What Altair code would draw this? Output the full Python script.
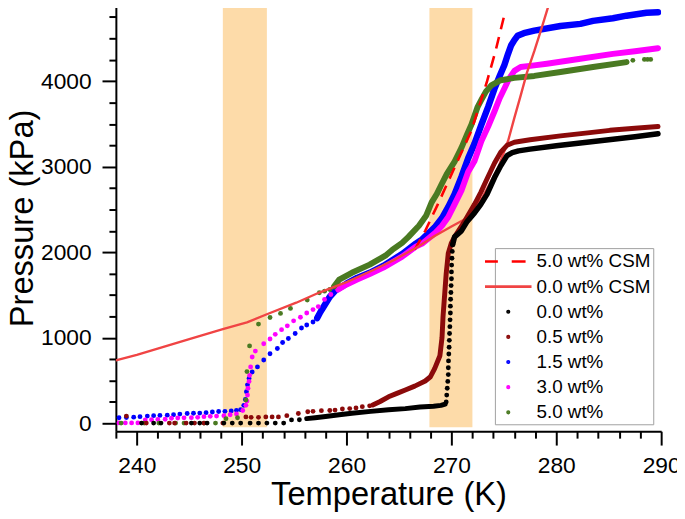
import altair as alt
import pandas as pd

# ---------------- shaded temperature bands ----------------
band_T1 = [248.2, 267.9]
band_T2 = [252.4, 272.0]
band_P1 = [-45, -45]
band_P2 = [4900, 4900]

# ---------------- model curves (CSM) ----------------
csm00_T = [238.0, 240.0, 242.7, 245.0, 248.2, 250.5, 252.4, 255.2, 257.4, 260.0, 262.5, 264.7,
           266.8, 268.4, 270.0, 271.5, 273.0, 274.5, 275.4, 276.0, 276.6, 277.2, 277.9, 278.6, 279.3]
csm00_P = [735, 800, 900, 985, 1102, 1180, 1275, 1410, 1529, 1650, 1790, 1920,
           2065, 2190, 2300, 2400, 2650, 3000, 3300, 3570, 3830, 4100, 4350, 4620, 4900]

csm50_T = [266.5, 267.5, 268.7, 270.3, 271.9, 273.4, 274.2, 275.1]
csm50_P = [2030, 2250, 2560, 2990, 3420, 4000, 4350, 4800]

# ---------------- 0.0 wt% (black) ----------------
w00_pts_T = [240.45, 241.6, 242.3, 245.2, 246.0, 246.7, 248.3, 249.1, 249.9, 250.8, 251.6,
             252.4, 253.2, 254.0, 254.75, 255.5]
w00_pts_P = [3, 3, 3, 3, 3, 3, 3, 3, 3, 3, 3, 3, 3, 3, 40, 42]
w00_low_T = [256.2, 257.0, 258.0, 259.3, 260.5, 262.3, 264.0, 265.6, 267.0, 268.3, 269.0, 269.4]
w00_low_P = [55, 65, 80, 100, 118, 140, 158, 172, 190, 200, 210, 225]
w00_col_T = [269.5, 269.55, 269.6, 269.65, 269.7, 269.7, 269.72, 269.75, 269.78, 269.8, 269.82, 269.85,
             269.87, 269.9, 269.9, 269.92, 269.95, 269.97, 270.0, 270.0, 270.02, 270.05, 270.08, 270.12]
w00_col_P = [250, 330, 410, 490, 570, 650, 730, 810, 890, 970, 1050, 1130,
             1210, 1290, 1370, 1450, 1530, 1610, 1690, 1770, 1850, 1930, 2010, 2090]
w00_up_T = [270.12, 270.3, 270.95, 271.5, 272.2, 272.8, 273.4, 274.1, 274.7, 275.3, 275.8, 276.4,
            277.5, 280.0, 282.5, 285.0, 287.5, 289.7]
w00_up_P = [2090, 2180, 2250, 2360, 2460, 2560, 2680, 2870, 3010, 3130, 3165, 3185,
            3205, 3245, 3280, 3315, 3350, 3385]

# ---------------- 0.5 wt% (dark red) ----------------
w05_pts_T = [239.0, 240.9, 243.1, 243.6, 244.7, 245.5, 246.4, 248.2, 250.4, 250.9, 251.6, 252.3, 252.9,
             253.5, 254.3, 255.4, 256.3, 256.8, 257.6, 258.4, 258.9, 259.6, 260.3, 260.9, 261.5, 262.2]
w05_pts_P = [85, 3, 3, 3, 3, 3, 3, 3, 75, 70, 70, 75, 75,
             75, 90, 115, 135, 140, 148, 150, 155, 168, 172, 180, 195, 205]
w05_line_T = [262.5, 263.2, 264.0, 264.8, 265.6, 266.5, 267.5, 268.0, 268.4, 268.9, 269.1, 269.2, 269.35,
              269.5, 269.7, 270.0, 270.3, 271.3, 272.2, 272.8, 273.4, 274.1, 274.7, 275.3, 276.0, 277.5,
              280.4, 283.0, 285.1, 287.5, 289.7]
w05_line_P = [215, 255, 310, 350, 390, 435, 495, 545, 640, 790, 1000, 1250, 1500,
              1750, 1990, 2110, 2180, 2370, 2560, 2700, 2860, 3040, 3170, 3250, 3285, 3315,
              3360, 3395, 3425, 3450, 3470]

# ---------------- 1.5 wt% (blue) ----------------
w15_pts_T = [238.3, 239.0, 239.7, 240.3, 241.0, 241.6, 242.2, 242.9, 243.5, 244.1, 244.8, 245.4,
             246.0, 246.6, 247.2, 247.8, 248.4, 249.0, 249.5, 249.9, 250.2, 250.35, 250.45, 250.55,
             250.7, 251.0, 251.5, 252.1, 252.7, 253.4, 253.9, 254.45, 255.1, 255.7, 256.2, 256.8]
w15_pts_P = [65, 68, 72, 78, 85, 90, 93, 96, 100, 108, 115, 118,
             120, 125, 132, 138, 140, 145, 152, 160, 210, 280, 370, 450,
             525, 600, 660, 740, 813, 875, 945, 992, 1050, 1115, 1150, 1185]
w15_line_T = [257.2, 257.5, 257.9, 258.4, 259.0, 259.95, 261.0, 262.2, 263.5, 265.3, 266.6, 267.2,
              268.4, 269.1, 269.7, 270.3, 270.95, 271.6, 272.2, 272.85, 273.5, 274.1, 274.6, 275.05,
              275.4, 275.7, 276.0, 276.3, 276.9, 277.9, 280.4, 282.3, 283.5, 285.4, 286.7, 288.6, 289.7]
w15_line_P = [1230, 1300, 1380, 1480, 1560, 1630, 1700, 1760, 1840, 1980, 2100, 2150,
              2290, 2400, 2530, 2680, 2880, 3100, 3270, 3490, 3700, 3910, 4060, 4190,
              4320, 4420, 4480, 4530, 4560, 4590, 4645, 4670, 4705, 4735, 4765, 4800, 4805]

# ---------------- 3.0 wt% (magenta) ----------------
w30_pts_T = [238.3, 238.9, 239.5, 240.1, 240.8, 241.4, 242.0, 242.7, 243.3, 243.9, 244.5, 245.2,
             245.8, 246.4, 247.0, 247.6, 248.3, 248.9, 249.5, 250.1, 250.4, 250.5, 250.55, 250.6,
             250.7, 250.75, 250.85, 251.0, 251.3, 252.1, 252.7, 253.2, 253.8, 254.35, 254.95, 255.6,
             256.2, 256.8, 257.3, 257.9, 258.5]
w30_pts_P = [5, 5, 5, 5, 40, 42, 45, 48, 60, 62, 64, 66,
             70, 78, 82, 85, 90, 100, 110, 150, 210, 260, 330, 410,
             490, 560, 660, 775, 845, 930, 986, 1040, 1095, 1140, 1198, 1240,
             1290, 1330, 1365, 1449, 1506]
w30_line_T = [259.2, 259.8, 261.0, 262.2, 263.5, 265.3, 266.6, 267.2, 268.4, 269.1, 269.7, 270.3,
              270.95, 271.6, 272.2, 272.85, 273.5, 274.1, 274.6, 275.05, 275.5, 276.0, 276.6, 277.9,
              279.1, 282.3, 285.4, 287.5, 289.7]
w30_line_P = [1564, 1610, 1680, 1745, 1820, 1949, 2065, 2100, 2220, 2310, 2412, 2560,
              2720, 2940, 3067, 3298, 3470, 3645, 3800, 3915, 4030, 4120, 4165, 4185,
              4204, 4262, 4319, 4350, 4385]

# ---------------- 5.0 wt% (green) ----------------
w50_pts_T = [238.5, 240.7, 242.1, 243.7, 244.5, 246.4, 247.5, 248.5, 249.6, 250.4, 250.5, 250.75,
             251.6, 252.7, 253.7, 254.65, 256.25, 257.4, 257.9, 258.4, 287.3, 288.4, 288.7, 289.0]
w50_pts_P = [3, 3, 3, 3, 3, 3, 3, 55, 65, 273, 605, 905,
             1160, 1237, 1285, 1343, 1441, 1526, 1545, 1564, 4243, 4254, 4254, 4254]
w50_line_T = [258.8, 259.3, 260.5, 262.2, 263.7, 264.35, 265.3, 265.9, 266.9, 267.6, 268.1, 268.6,
              269.0, 269.55, 270.3, 270.95, 271.5, 271.9, 272.5, 272.85, 273.3, 273.8, 274.7, 276.0,
              277.9, 280.4, 283.5, 286.05, 286.7]
w50_line_P = [1600, 1680, 1760, 1855, 1960, 2027, 2110, 2180, 2310, 2430, 2580, 2680,
              2780, 2913, 3060, 3221, 3380, 3491, 3700, 3780, 3880, 3950, 4011, 4038,
              4061, 4107, 4165, 4211, 4223]

# ---------------- legend / styling lists ----------------
legend_names = ["5.0 wt% CSM", "0.0 wt% CSM", "0.0 wt%", "0.5 wt%", "1.5 wt%", "3.0 wt%", "5.0 wt%"]
legend_colors = ["#FF0000", "#F04444", "#000000", "#8B0A0A", "#0000FF", "#FF00FF", "#4A7A22"]
dot = "M-0.08,0A0.08,0.08,0,1,1,0.08,0A0.08,0.08,0,1,1,-0.08,0Z"
legend_shapes = ["M-2.35,0H-1.05M0.35,0H1.75", "M-2.35,0H2.35", dot, dot, dot, dot, dot]

x_major = [240, 250, 260, 270, 280, 290]
x_minor = [238, 242, 244, 246, 248, 252, 254, 256, 258, 262, 264, 266, 268,
           272, 274, 276, 278, 282, 284, 286, 288]
y_major = [0, 1000, 2000, 3000, 4000]
y_minor = [250, 500, 750, 1250, 1500, 1750, 2250, 2500, 2750, 3250, 3500, 3750, 4250, 4500, 4750]

FONT = "Liberation Sans"

xscale = alt.Scale(domain=[238, 290], nice=False, zero=False)
yscale = alt.Scale(domain=[-92, 4894], nice=False, zero=False)

common = dict(grid=False, tickWidth=2, tickColor="black", domainColor="black", domainWidth=2)

xaxis_major = alt.Axis(
    orient="bottom", values=x_major, title="Temperature (K)", tickSize=14, **common,
    labelFontSize=23, labelFont=FONT, labelColor="black", labelFlush=False, labelOverlap=False,
    labelBaseline="alphabetic", labelPadding=27.5,
    titleFontSize=33, titleFont=FONT, titleFontWeight="normal", titleColor="black",
    titleBaseline="alphabetic", titleX=275.5, titleY=74,
)
xaxis_minor = alt.Axis(orient="bottom", values=x_minor, title=None, tickSize=7, labels=False,
                       domain=False, grid=False, tickWidth=2, tickColor="black")
yaxis_major = alt.Axis(
    orient="left", values=y_major, title="Pressure (kPa)", format="d", tickSize=14, **common,
    labelFontSize=23, labelFont=FONT, labelColor="black", labelOverlap=False, labelPadding=11,
    titleFontSize=33, titleFont=FONT, titleFontWeight="normal", titleColor="black",
    titleBaseline="alphabetic", titleAngle=270, titleX=-84.5, titleY=215.5, titleAlign="center",
)
yaxis_minor = alt.Axis(orient="left", values=y_minor, title=None, tickSize=7, labels=False,
                       domain=False, grid=False, tickWidth=2, tickColor="black")


def frame(T, P):
    return pd.DataFrame({"T": T, "P": P, "i": list(range(len(T)))})


def base(df, xa=None, ya=None):
    return alt.Chart(df).encode(
        x=alt.X("T:Q", scale=xscale, axis=xa),
        y=alt.Y("P:Q", scale=yscale, axis=ya),
    )


def pts(T, P, color, xa=None, ya=None):
    return base(frame(T, P), xa, ya).mark_circle(color=color, size=24, opacity=1, clip=True)


def path(T, P, color, width=6.0, dash=None):
    kw = dict(color=color, strokeWidth=width, strokeCap="round", strokeJoin="round", clip=True)
    if dash is not None:
        kw["strokeDash"] = dash
        kw["strokeCap"] = "butt"
    return base(frame(T, P)).mark_line(**kw).encode(order="i:Q")


bands_df = pd.DataFrame({"T": band_T1, "T2": band_T2, "P": band_P1, "P2": band_P2})
bands = base(bands_df, xaxis_major, yaxis_major).mark_rect(color="#FDDBA9", clip=True).encode(
    x2="T2:Q", y2="P2:Q")

leg = alt.Legend(
    title=None, orient="none", legendX=383, legendY=246,
    symbolSize=400, symbolStrokeWidth=2.6, symbolOpacity=1,
    labelFontSize=19, labelFont=FONT, labelColor="black", labelOffset=17, labelLimit=0,
    padding=2, rowPadding=3.4, strokeColor="#A0A0A0", fillColor="white",
)
legend_df = pd.DataFrame({"series": legend_names})
legend_layer = alt.Chart(legend_df).mark_point(filled=True, opacity=1).encode(
    shape=alt.Shape("series:N", scale=alt.Scale(domain=legend_names, range=legend_shapes), legend=leg),
    fill=alt.Fill("series:N", scale=alt.Scale(domain=legend_names, range=legend_colors), legend=leg),
    stroke=alt.Stroke("series:N", scale=alt.Scale(domain=legend_names, range=legend_colors), legend=leg),
).transform_filter("false")

c_black, c_dred, c_blue, c_mag, c_green = "#000000", "#8B0A0A", "#0000FF", "#FF00FF", "#4A7A22"

chart = alt.layer(
    bands,
    pts(w15_pts_T, w15_pts_P, c_blue, xaxis_minor, yaxis_minor),
    path(w15_line_T, w15_line_P, c_blue, width=6.5),
    pts(w30_pts_T, w30_pts_P, c_mag),
    path(w30_line_T, w30_line_P, c_mag, width=6.0),
    pts(w50_pts_T, w50_pts_P, c_green),
    path(w50_line_T, w50_line_P, c_green, width=6.0),
    path(csm50_T, csm50_P, "#FF0000", width=2.6, dash=[12, 8]),
    path(csm00_T, csm00_P, "#F04444", width=2.4),
    pts(w05_pts_T, w05_pts_P, c_dred),
    path(w05_line_T, w05_line_P, c_dred, width=5.0),
    pts(w00_pts_T, w00_pts_P, c_black),
    path(w00_low_T, w00_low_P, c_black, width=5.0),
    pts(w00_col_T, w00_col_P, c_black),
    path(w00_up_T, w00_up_P, c_black, width=5.5),
    legend_layer,
).resolve_axis(x="independent", y="independent").properties(
    width=551, height=431,
    padding={"left": 109, "top": -6, "right": 16, "bottom": 79},
    autosize=alt.AutoSizeParams(type="none"),
).configure(font=FONT).configure_view(stroke="transparent")

chart.save("out.html", embed_options={"renderer": "svg", "actions": False})
